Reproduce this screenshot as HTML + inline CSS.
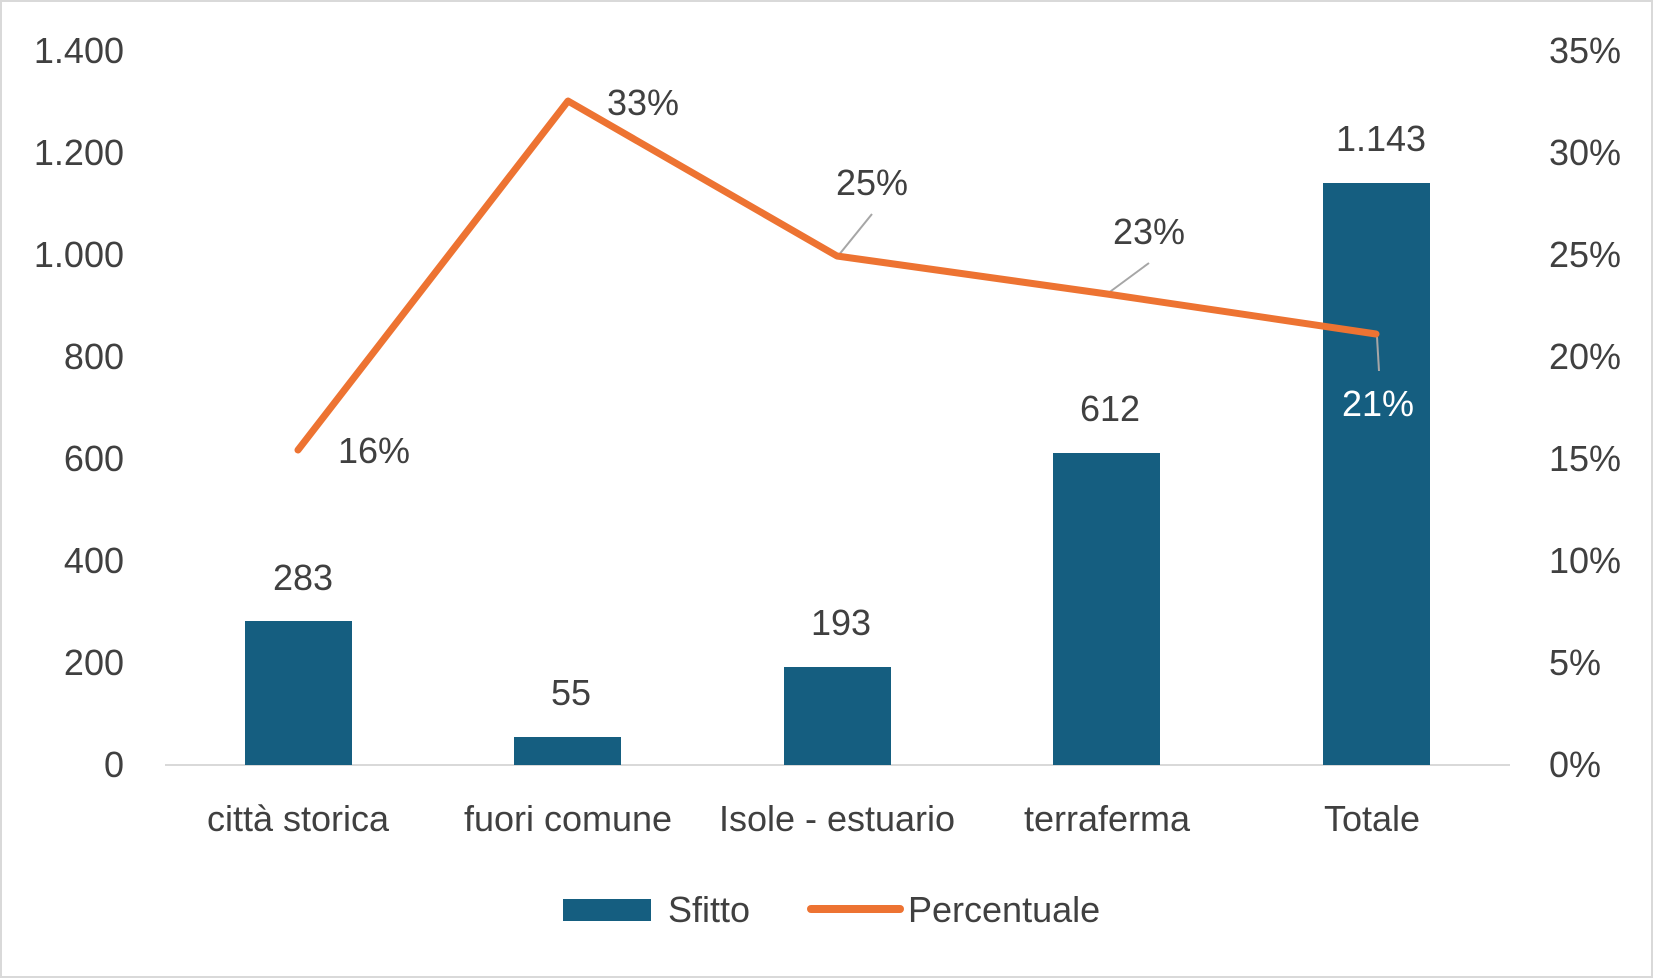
<!DOCTYPE html>
<html><head><meta charset="utf-8"><style>
html,body{margin:0;padding:0;background:#fff}
svg{display:block}
text{font-family:"Liberation Sans",sans-serif;font-size:36px;fill:#404040}
</style></head><body>
<svg width="1653" height="978" viewBox="0 0 1653 978" xmlns="http://www.w3.org/2000/svg">
<rect x="1" y="1" width="1651" height="976" fill="#fff" stroke="#d9d9d9" stroke-width="2"/>
<line x1="165" y1="765" x2="1510" y2="765" stroke="#d9d9d9" stroke-width="2"/>
<g text-anchor="end">
<text x="124" y="777">0</text><text x="124" y="675">200</text><text x="124" y="573">400</text>
<text x="124" y="471">600</text><text x="124" y="369">800</text><text x="124" y="267">1.000</text>
<text x="124" y="165">1.200</text><text x="124" y="63">1.400</text>
</g>
<g>
<text x="1549" y="777">0%</text><text x="1549" y="675">5%</text><text x="1549" y="573">10%</text>
<text x="1549" y="471">15%</text><text x="1549" y="369">20%</text><text x="1549" y="267">25%</text>
<text x="1549" y="165">30%</text><text x="1549" y="63">35%</text>
</g>
<g fill="#155e80">
<rect x="245" y="621" width="107" height="144"/>
<rect x="514" y="737" width="107" height="28"/>
<rect x="784" y="667" width="107" height="98"/>
<rect x="1053" y="453" width="107" height="312"/>
<rect x="1323" y="183" width="107" height="582"/>
</g>
<g stroke="#a6a6a6" stroke-width="2">
<line x1="872" y1="214" x2="838" y2="256"/>
<line x1="1149" y1="263" x2="1107" y2="294"/>
<line x1="1377" y1="337" x2="1379" y2="371"/>
</g>
<polyline points="298,450 568,101 837,256 1107,294 1376,334" fill="none" stroke="#ed7332" stroke-width="7" stroke-linejoin="round" stroke-linecap="round"/>
<g text-anchor="middle">
<text x="303" y="590">283</text><text x="571" y="705">55</text><text x="841" y="635">193</text>
<text x="1110" y="421">612</text><text x="1381" y="151">1.143</text>
<text x="374" y="463">16%</text><text x="643" y="115">33%</text><text x="872" y="195">25%</text>
<text x="1149" y="244">23%</text><text x="1378" y="416" style="fill:#fff">21%</text>
<text x="298" y="831">città storica</text><text x="568" y="831">fuori comune</text>
<text x="837" y="831">Isole - estuario</text><text x="1107" y="831">terraferma</text>
<text x="1372" y="831">Totale</text>
</g>
<rect x="563" y="899" width="88" height="22" fill="#155e80"/>
<text x="668" y="922">Sfitto</text>
<line x1="811" y1="909" x2="900" y2="909" stroke="#ed7332" stroke-width="8" stroke-linecap="round"/>
<text x="908" y="922">Percentuale</text>
</svg>
</body></html>
